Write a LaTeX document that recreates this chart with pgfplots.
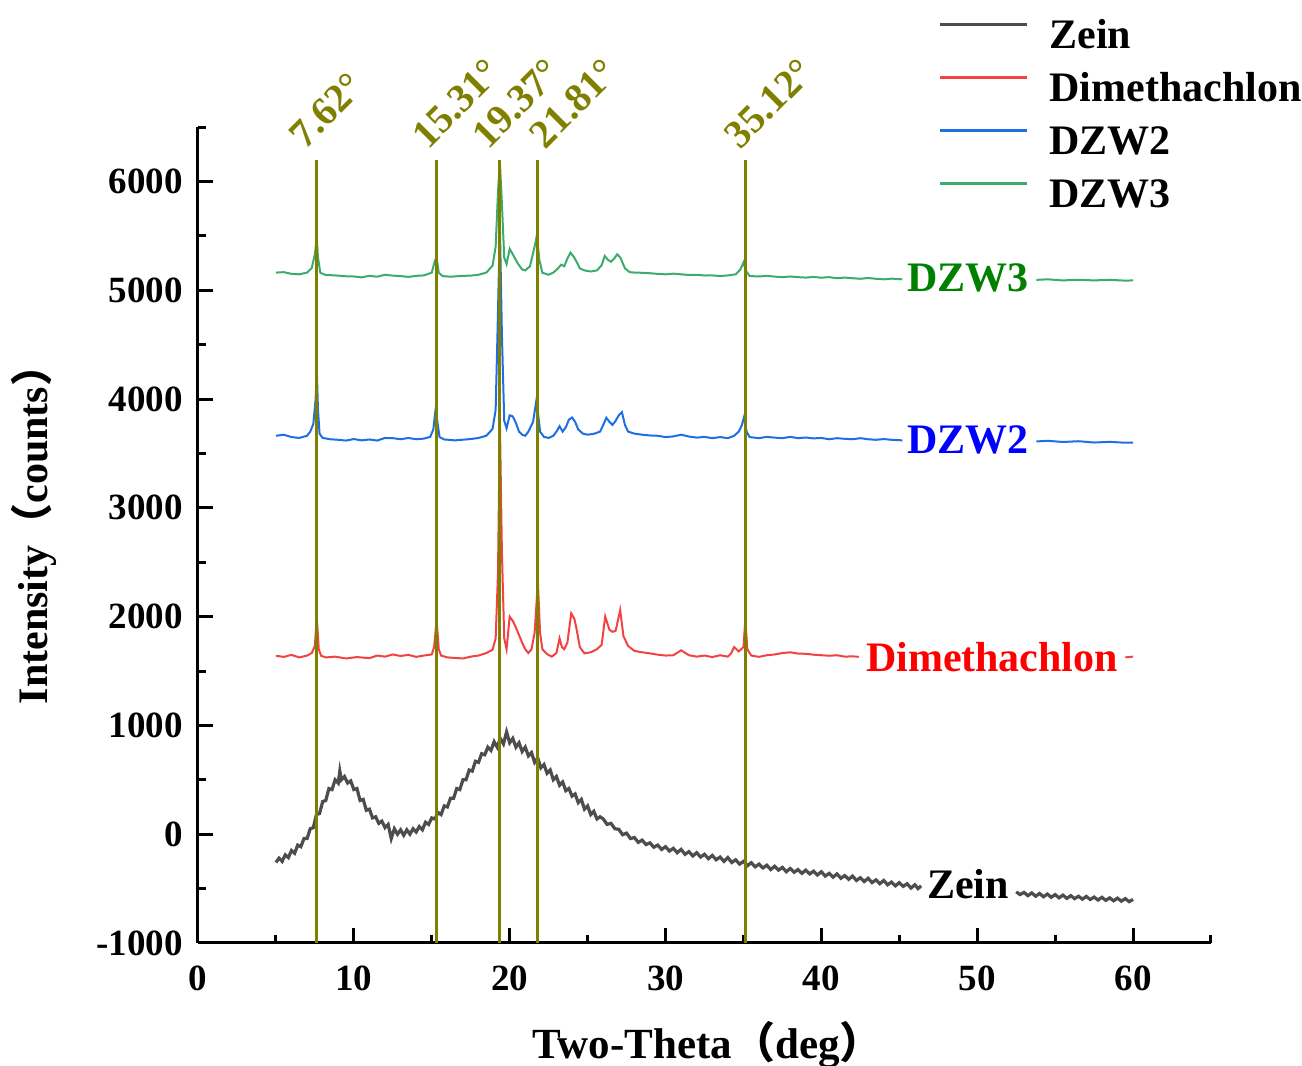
\documentclass[border=0pt]{standalone}
\usepackage{pgfplots}
\pgfplotsset{compat=1.18}
\usepackage{fontspec}
\setmainfont{Liberation Serif}
\newfontfamily\cjk{Noto Sans CJK SC}
\definecolor{zeingray}{RGB}{77,77,77}
\definecolor{dimred}{RGB}{242,66,66}
\definecolor{dzwblue}{RGB}{30,110,228}
\definecolor{dzwgreen}{RGB}{58,172,108}
\definecolor{olivec}{RGB}{128,128,0}
\definecolor{labgreen}{RGB}{0,128,0}
\begin{document}
\begin{tikzpicture}
\useasboundingbox (-99pt,-61.5pt) rectangle (552pt,471.5pt);
\begin{axis}[
  at={(0pt,0pt)}, anchor=south west,
  scale only axis, width=506.5pt, height=408pt,
  xmin=0, xmax=65, ymin=-1000, ymax=6500,
  axis x line*=bottom, axis y line*=left,
  axis line style={line width=1.5pt, black},
  tick align=inside,
  major tick length=7.5pt, minor tick length=4pt,
  every tick/.style={line width=1.5pt, black},
  xtick={0,10,20,30,40,50,60},
  xticklabels={0,10,20,30,40,50,60},
  minor xtick={5,15,25,35,45,55,65},
  ytick={-1000,0,1000,2000,3000,4000,5000,6000},
  yticklabels={-1000,0,1000,2000,3000,4000,5000,6000},
  minor ytick={-500,500,1500,2500,3500,4500,5500,6500},
  xticklabel style={font=\bfseries\fontsize{18.5}{22}\selectfont, inner sep=0pt, anchor=north, yshift=-11pt},
  yticklabel style={font=\bfseries\fontsize{18.5}{22}\selectfont, inner sep=0pt, anchor=east, xshift=-7.5pt},
  xlabel={Two-Theta{\cjk （}deg{\cjk ）}},
  ylabel={Intensity{\cjk （}counts{\cjk ）}},
  xlabel style={font=\bfseries\fontsize{21.5}{24}\selectfont, at={(axis description cs:0.503,0)}, anchor=base, yshift=-57.5pt},
  ylabel style={font=\bfseries\fontsize{21}{24}\selectfont, at={(axis description cs:0,0.513)}, anchor=base, yshift=75pt},
  clip=false,
  unbounded coords=jump,
  legend cell align=left,
  legend image code/.code={\draw[#1, line width=1.5pt] (0pt,7pt) -- (43.5pt,7pt);},
  legend style={at={(axis cs:47.49,7497)}, anchor=north west, draw=none, fill=none,
    inner sep=0pt, row sep=6.5pt, column sep=10.5pt,
    font=\bfseries\fontsize{21}{25}\selectfont,
    nodes={inner sep=0pt, text height=15pt, text depth=5pt}},
]
% Zein
\addplot[zeingray, line width=1.6pt] coordinates {
(5.0,-260) (5.2,-220) (5.4,-250) (5.6,-190) (5.8,-215) (6.0,-150) (6.2,-175) (6.4,-100) (6.6,-115) (6.8,-40)
(7.0,-40) (7.2,50) (7.4,60) (7.6,180) (7.8,190) (8.0,300) (8.2,310) (8.4,420) (8.6,410) (8.8,500)
(9.0,470) (9.1,580) (9.2,500) (9.4,530) (9.6,470) (9.8,490) (10.0,410) (10.2,420) (10.4,310) (10.6,320)
(10.8,220) (11.0,230) (11.2,150) (11.4,160) (11.6,100) (11.8,120) (12.0,60) (12.2,90) (12.4,-40) (12.6,50)
(12.8,0) (13.0,40) (13.2,-10) (13.4,40) (13.6,0) (13.8,50) (14.0,20) (14.2,70) (14.4,40) (14.6,110)
(14.8,90) (15.0,150) (15.2,140) (15.4,200) (15.6,180) (15.8,260) (16.0,250) (16.2,330) (16.4,330) (16.6,420)
(16.8,410) (17.0,500) (17.2,500) (17.4,590) (17.6,580) (17.8,670) (18.0,660) (18.2,740) (18.4,730) (18.6,800)
(18.8,770) (19.0,850) (19.2,800) (19.4,880) (19.6,830) (19.8,940) (20.0,840) (20.2,880) (20.4,800) (20.6,840)
(20.8,760) (21.0,800) (21.2,720) (21.4,750) (21.6,660) (21.8,700) (22.0,610) (22.2,640) (22.4,560) (22.6,590)
(22.8,500) (23.0,530) (23.2,450) (23.4,480) (23.6,400) (23.8,420) (24.0,350) (24.2,370) (24.4,290) (24.6,320)
(24.8,230) (25.0,260) (25.2,180) (25.4,210) (25.6,140) (25.8,160)
(26.0,140) (26.25,90) (26.5,100) (26.75,50) (27.0,45) (27.25,-5) (27.5,10) (27.75,-40) (28.0,-30) (28.25,-75)
(28.5,-55) (28.75,-95) (29.0,-80) (29.25,-120) (29.5,-100) (29.75,-140) (30.0,-115) (30.25,-155) (30.5,-130) (30.75,-170)
(31.0,-140) (31.25,-185) (31.5,-160) (31.75,-200) (32.0,-170) (32.25,-210) (32.5,-185) (32.75,-225) (33.0,-195) (33.25,-235)
(33.5,-210) (33.75,-250) (34.0,-215) (34.25,-260) (34.5,-235) (34.75,-275) (35.0,-250) (35.25,-290) (35.5,-262) (35.75,-300)
(36.0,-275) (36.25,-310) (36.5,-285) (36.75,-325) (37.0,-295) (37.25,-330) (37.5,-305) (37.75,-345) (38.0,-315) (38.25,-350)
(38.5,-325) (38.75,-360) (39.0,-330) (39.25,-365) (39.5,-340) (39.75,-375) (40.0,-345) (40.25,-385) (40.5,-360) (40.75,-395)
(41.0,-365) (41.25,-405) (41.5,-380) (41.75,-415) (42.0,-385) (42.25,-425) (42.5,-400) (42.75,-435) (43.0,-405) (43.25,-445)
(43.5,-420) (43.75,-455) (44.0,-425) (44.25,-465) (44.5,-440) (44.75,-475) (45.0,-445) (45.25,-480) (45.5,-455) (45.75,-495)
(46.0,-465) (46.2,-500) (46.4,-475) (46.5,nan)
(52.5,-530) (52.75,-555) (53.0,-535) (53.25,-565) (53.5,-540) (53.75,-570) (54.0,-545) (54.25,-575) (54.5,-550) (54.75,-580)
(55.0,-555) (55.25,-585) (55.5,-560) (55.75,-590) (56.0,-565) (56.25,-592) (56.5,-570) (56.75,-597) (57.0,-572) (57.25,-600)
(57.5,-578) (57.75,-605) (58.0,-580) (58.25,-608) (58.5,-585) (58.75,-612) (59.0,-588) (59.25,-615) (59.5,-592) (59.75,-620)
(60.0,-600)
};
\addlegendentry{Zein}
% Dimethachlon
\addplot[dimred, line width=1pt] coordinates {
(5.0,1640) (5.5,1630) (6.0,1648) (6.5,1625) (7.0,1642) (7.3,1665) (7.5,1730) (7.62,2000) (7.75,1700) (7.9,1640)
(8.2,1625) (8.8,1632) (9.5,1615) (10.2,1628) (11.0,1618) (11.5,1642) (12.0,1632) (12.5,1652) (13.0,1638) (13.5,1648)
(14.0,1630) (14.5,1642) (15.0,1652) (15.15,1720) (15.31,1970) (15.45,1700) (15.6,1642) (16.0,1625) (16.5,1620) (17.0,1615)
(17.5,1632) (18.0,1642) (18.5,1665) (18.9,1695) (19.1,1800) (19.25,2400) (19.37,3820) (19.5,2600) (19.65,1800) (19.8,1700)
(20.0,2000) (20.2,1960) (20.4,1900) (20.6,1830) (20.8,1760) (21.0,1700) (21.2,1665) (21.4,1700) (21.6,1850) (21.81,2320)
(21.95,1850) (22.1,1700) (22.4,1655) (22.7,1632) (23.0,1665) (23.2,1800) (23.35,1720) (23.5,1700) (23.7,1760) (23.95,2030)
(24.15,1980) (24.3,1880) (24.5,1720) (24.8,1662) (25.2,1672) (25.6,1700) (25.9,1740) (26.13,2000) (26.4,1880) (26.6,1860)
(26.8,1870) (27.09,2060) (27.3,1820) (27.6,1730) (28.0,1685) (28.5,1672) (29.0,1662) (29.5,1650) (30.0,1642) (30.5,1645)
(31.0,1690) (31.5,1645) (32.0,1632) (32.5,1642) (33.0,1628) (33.5,1645) (34.0,1632) (34.2,1660) (34.4,1720) (34.7,1680)
(35.0,1720) (35.12,1970) (35.25,1700) (35.5,1642) (36.0,1630) (36.5,1645) (37.0,1652) (37.5,1665) (38.0,1672) (38.5,1660)
(39.0,1658) (39.5,1650) (40.0,1645) (40.5,1640) (41.0,1645) (41.5,1632) (42.0,1635) (42.4,1630) (42.5,nan)
(59.5,1625) (60.0,1632)
};
\addlegendentry{Dimethachlon}
% DZW2
\addplot[dzwblue, line width=1pt] coordinates {
(5.0,3662) (5.5,3672) (6.0,3650) (6.5,3642) (7.0,3662) (7.2,3700) (7.4,3770) (7.55,4000) (7.62,4280) (7.7,3900)
(7.8,3680) (8.0,3642) (8.5,3630) (9.0,3625) (9.5,3618) (10.0,3632) (10.5,3620) (11.0,3628) (11.5,3618) (12.0,3642)
(12.5,3640) (13.0,3630) (13.5,3642) (14.0,3630) (14.5,3636) (14.9,3652) (15.1,3720) (15.25,3910) (15.35,3800) (15.5,3650)
(15.8,3628) (16.5,3620) (17.0,3626) (17.5,3632) (18.0,3642) (18.5,3662) (18.9,3725) (19.1,3900) (19.25,4800) (19.37,5600)
(19.5,4600) (19.65,3800) (19.8,3730) (20.0,3850) (20.2,3840) (20.4,3780) (20.6,3700) (20.8,3672) (21.0,3662) (21.2,3700)
(21.5,3790) (21.7,3975) (21.81,3880) (21.95,3700) (22.2,3652) (22.5,3642) (22.8,3662) (23.0,3700) (23.2,3750) (23.4,3700)
(23.6,3740) (23.8,3810) (24.0,3830) (24.2,3790) (24.4,3720) (24.7,3682) (25.0,3672) (25.4,3680) (25.8,3700) (26.0,3760)
(26.2,3828) (26.4,3790) (26.6,3762) (26.8,3800) (27.0,3850) (27.2,3880) (27.4,3760) (27.6,3700) (28.0,3682) (28.5,3672)
(29.0,3665) (29.5,3662) (30.0,3650) (30.5,3656) (31.0,3672) (31.5,3655) (32.0,3645) (32.5,3652) (33.0,3640) (33.5,3650)
(34.0,3640) (34.4,3662) (34.7,3700) (34.9,3760) (35.05,3840) (35.2,3700) (35.4,3650) (36.0,3640) (36.5,3652) (37.0,3645)
(37.5,3640) (38.0,3652) (38.5,3640) (39.0,3646) (39.5,3638) (40.0,3642) (40.5,3630) (41.0,3640) (41.5,3634) (42.0,3630)
(42.5,3640) (43.0,3630) (43.5,3625) (44.0,3632) (44.5,3625) (45.2,3620) (45.3,nan)
(53.8,3610) (54.5,3616) (55.5,3605) (56.5,3612) (57.5,3600) (58.5,3606) (59.5,3598) (60.0,3600)
};
\addlegendentry{DZW2}
% DZW3
\addplot[dzwgreen, line width=1pt] coordinates {
(5.0,5162) (5.5,5166) (6.0,5150) (6.5,5146) (7.0,5162) (7.3,5205) (7.5,5330) (7.62,5480) (7.7,5300) (7.85,5160)
(8.2,5140) (8.8,5136) (9.5,5128) (10.0,5126) (10.5,5118) (11.0,5132) (11.5,5124) (12.0,5142) (12.5,5134) (13.0,5130)
(13.5,5122) (14.0,5132) (14.5,5136) (15.0,5162) (15.2,5270) (15.31,5300) (15.45,5160) (15.7,5130) (16.2,5124) (17.0,5132)
(17.5,5134) (18.0,5142) (18.5,5162) (18.9,5225) (19.1,5400) (19.25,5900) (19.37,6180) (19.5,5800) (19.65,5300) (19.8,5240)
(20.0,5380) (20.2,5330) (20.5,5250) (20.8,5190) (21.0,5182) (21.3,5220) (21.6,5400) (21.75,5510) (21.9,5280) (22.1,5160)
(22.5,5142) (22.8,5162) (23.1,5200) (23.3,5235) (23.5,5220) (23.7,5290) (23.9,5345) (24.1,5310) (24.3,5260) (24.5,5200)
(24.8,5182) (25.2,5172) (25.6,5182) (25.9,5230) (26.1,5315) (26.3,5280) (26.5,5262) (26.7,5290) (26.9,5330) (27.1,5300)
(27.4,5200) (27.7,5166) (28.0,5162) (28.5,5160) (29.0,5156) (29.5,5150) (30.0,5146) (30.5,5152) (31.0,5146) (31.5,5140)
(32.0,5142) (32.5,5135) (33.0,5136) (33.5,5130) (34.0,5136) (34.5,5146) (34.8,5190) (35.0,5255) (35.15,5180) (35.4,5130)
(36.0,5126) (36.5,5132) (37.0,5125) (37.5,5120) (38.0,5126) (38.5,5120) (39.0,5116) (39.5,5122) (40.0,5115) (40.5,5120)
(41.0,5110) (41.5,5116) (42.0,5110) (42.5,5105) (43.0,5112) (43.5,5105) (44.0,5100) (44.5,5106) (45.2,5100) (45.3,nan)
(53.8,5095) (54.5,5100) (55.5,5090) (56.5,5096) (57.5,5090) (58.5,5095) (59.5,5088) (60.0,5090)
};
\addlegendentry{DZW3}
% reference lines
\addplot[olivec, line width=1.5pt, forget plot] coordinates {(7.62,-1000) (7.62,6200)};
\addplot[olivec, line width=1.5pt, forget plot] coordinates {(15.31,-1000) (15.31,6200)};
\addplot[olivec, line width=1.5pt, forget plot] coordinates {(19.37,-1000) (19.37,6200)};
\addplot[olivec, line width=1.5pt, forget plot] coordinates {(21.81,-1000) (21.81,6200)};
\addplot[olivec, line width=1.5pt, forget plot] coordinates {(35.12,-1000) (35.12,6200)};
\begin{scope}[every node/.style={text=olivec, font=\bfseries\fontsize{20}{24}\selectfont, rotate=45, anchor=base west, inner sep=0pt}]
\node at (axis cs:6.85,6285) {7.62°};
\node at (axis cs:14.75,6285) {15.31°};
\node at (axis cs:18.6,6285) {19.37°};
\node at (axis cs:22.25,6285) {21.81°};
\node at (axis cs:34.8,6285) {35.12°};
\end{scope}
\node[text=labgreen, font=\bfseries\fontsize{21}{25}\selectfont] at (axis cs:49.41,5109) {DZW3};
\node[text=blue, font=\bfseries\fontsize{21}{25}\selectfont] at (axis cs:49.41,3621) {DZW2};
\node[text=red, font=\bfseries\fontsize{21}{25}\selectfont] at (axis cs:50.95,1627) {Dimethachlon};
\node[text=black, font=\bfseries\fontsize{21}{25}\selectfont] at (axis cs:49.41,-458) {Zein};
\end{axis}
\end{tikzpicture}
\end{document}
